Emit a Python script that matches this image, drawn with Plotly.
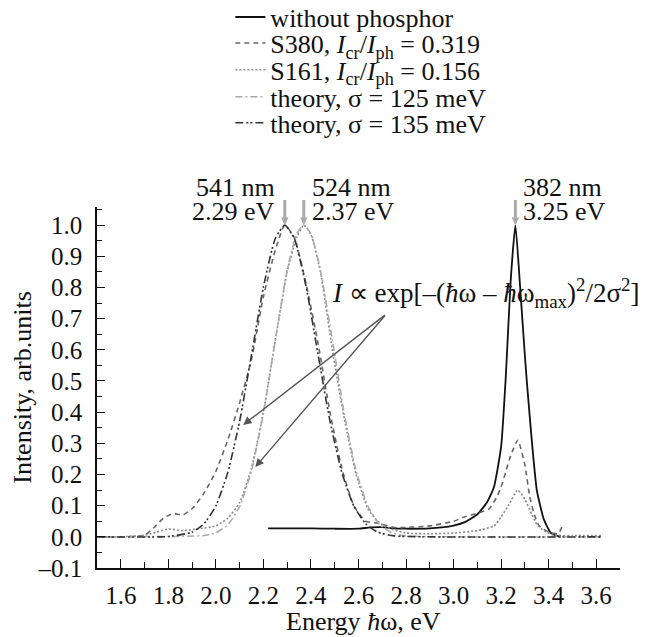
import plotly.graph_objects as go

# "without phosphor" (solid)
e_nophos = [2.22, 2.30, 2.40, 2.50, 2.60, 2.65, 2.70, 2.75, 2.80, 2.90, 2.95, 3.00, 3.05,
            3.10, 3.14, 3.17, 3.20, 3.22, 3.24, 3.26, 3.28, 3.30, 3.31, 3.33, 3.35, 3.38,
            3.41, 3.45]
i_nophos = [0.027, 0.027, 0.027, 0.026, 0.026, 0.030, 0.031, 0.027, 0.026, 0.027, 0.030,
            0.036, 0.048, 0.072, 0.11, 0.16, 0.29, 0.52, 0.82, 1.0, 0.80, 0.58, 0.48, 0.30,
            0.15, 0.055, 0.012, 0.0]

# S380 (dashed)
e_s380 = [1.52, 1.60, 1.70, 1.74, 1.78, 1.82, 1.86, 1.90, 1.95, 2.00, 2.05, 2.10, 2.15,
          2.20, 2.25, 2.29, 2.33, 2.38, 2.43, 2.48, 2.53, 2.58, 2.63, 2.67, 2.70, 2.75,
          2.80, 2.90, 3.00, 3.05, 3.10, 3.15, 3.18, 3.20, 3.22, 3.24, 3.27, 3.30, 3.32,
          3.34, 3.36, 3.40, 3.44, 3.46]
i_s380 = [0.0, 0.0, 0.005, 0.03, 0.06, 0.075, 0.07, 0.09, 0.14, 0.21, 0.31, 0.43, 0.57,
          0.77, 0.92, 1.0, 0.96, 0.81, 0.62, 0.40, 0.22, 0.10, 0.05, 0.045, 0.04, 0.03,
          0.03, 0.035, 0.05, 0.065, 0.075, 0.09, 0.125, 0.16, 0.21, 0.26, 0.31, 0.23,
          0.13, 0.07, 0.035, 0.015, 0.01, 0.04]

# S161 (dotted)
e_s161 = [1.52, 1.60, 1.70, 1.75, 1.80, 1.86, 1.92, 2.00, 2.05, 2.10, 2.15, 2.20, 2.25,
          2.30, 2.34, 2.37, 2.40, 2.44, 2.49, 2.54, 2.59, 2.64, 2.68, 2.72, 2.80, 2.90,
          3.00, 3.10, 3.17, 3.20, 3.23, 3.27, 3.30, 3.33, 3.35, 3.38, 3.42, 3.50, 3.62]
i_s161 = [0.0, 0.0, 0.005, 0.015, 0.025, 0.02, 0.025, 0.035, 0.06, 0.11, 0.22, 0.40, 0.63,
          0.85, 0.96, 1.0, 0.97, 0.85, 0.60, 0.38, 0.20, 0.09, 0.05, 0.03, 0.012, 0.01,
          0.012, 0.02, 0.035, 0.064, 0.10, 0.15, 0.12, 0.07, 0.04, 0.02, 0.006, 0.004, 0.004]

# theory, sigma = 125 meV (dash-dot)
e_th125 = [1.50, 1.95, 2.00, 2.05, 2.10, 2.15, 2.20, 2.25, 2.30, 2.34, 2.37, 2.40, 2.44,
           2.49, 2.54, 2.59, 2.64, 2.69, 2.74, 2.80, 3.62]
i_th125 = [0.0, 0.004, 0.013, 0.038, 0.097, 0.212, 0.396, 0.631, 0.855, 0.972, 1.0, 0.972,
           0.855, 0.631, 0.396, 0.212, 0.097, 0.038, 0.013, 0.003, 0.0]

# theory, sigma = 135 meV (dash-dot-dot)
e_th135 = [1.50, 1.80, 1.90, 1.95, 2.00, 2.05, 2.10, 2.15, 2.20, 2.25, 2.29, 2.33, 2.38,
           2.43, 2.48, 2.53, 2.58, 2.63, 2.68, 2.75, 3.62]
i_th135 = [0.0, 0.001, 0.015, 0.042, 0.099, 0.206, 0.371, 0.584, 0.801, 0.957, 1.0, 0.957,
           0.801, 0.584, 0.371, 0.206, 0.099, 0.042, 0.015, 0.003, 0.0]

# peak markers: energy, wavelength label, energy label, side of text
peaks = [(2.29, "541 nm", "2.29 eV", "right"),
         (2.37, "524 nm", "2.37 eV", "left"),
         (3.26, "382 nm", "3.25 eV", "left")]

x_ticks = [1.6, 1.8, 2.0, 2.2, 2.4, 2.6, 2.8, 3.0, 3.2, 3.4, 3.6]
y_ticks = [-0.1, 0.0, 0.1, 0.2, 0.3, 0.4, 0.5, 0.6, 0.7, 0.8, 0.9, 1.0]

FONT = "Liberation Serif, Times New Roman, serif"

series = [
    (e_nophos, i_nophos, "without phosphor", "#111111", "solid", 1.8),
    (e_s380, i_s380, "S380, <i>I</i><sub>cr</sub>/<i>I</i><sub>ph</sub> = 0.319",
     "#666666", "5px,4px", 1.6),
    (e_s161, i_s161, "S161, <i>I</i><sub>cr</sub>/<i>I</i><sub>ph</sub> = 0.156",
     "#888888", "2px,2px", 1.6),
    (e_th125, i_th125, "theory, σ = 125 meV", "#aaaaaa", "7px,3px,2px,3px", 1.6),
    (e_th135, i_th135, "theory, σ = 135 meV", "#333333", "8px,3px,2px,2px,2px,3px", 1.6),
]

legend_rows = [1.526, 1.454, 1.380, 1.305, 1.233]

fig = go.Figure()
layout_legends = {}
for k, (ex, iy, name, color, dash, w) in enumerate(series):
    key = "legend" if k == 0 else "legend%d" % (k + 1)
    fig.add_trace(go.Scatter(
        x=ex, y=iy, name=name, mode="lines",
        line=dict(color=color, dash=dash, width=w, shape="spline", smoothing=0.5),
        legend=key,
    ))
    layout_legends[key] = dict(
        x=0.255, y=legend_rows[k], xanchor="left", yanchor="middle",
        font=dict(family=FONT, size=26, color="#111111"),
        bgcolor="rgba(0,0,0,0)", borderwidth=0,
    )

annotations = []
for e, nm, ev, side in peaks:
    shift = -8 if side == "right" else 6
    annotations.append(dict(x=e, y=1.0, ax=e, ay=1.085, xref="x", yref="y",
                            axref="x", ayref="y", text="", showarrow=True,
                            arrowhead=2, arrowsize=0.5, arrowwidth=3,
                            arrowcolor="#aaaaaa"))
    annotations.append(dict(x=e, y=1.042, xref="x", yref="y", text=nm,
                            showarrow=False, xanchor=side, xshift=shift, yshift=24,
                            font=dict(family=FONT, size=26, color="#111111")))
    annotations.append(dict(x=e, y=1.042, xref="x", yref="y", text=ev,
                            showarrow=False, xanchor=side, xshift=shift,
                            font=dict(family=FONT, size=26, color="#111111")))

annotations.append(dict(
    x=2.48, y=0.782, xref="x", yref="y", xanchor="left", showarrow=False,
    text="<i>I</i> ∝ exp[–(<i>ħ</i>ω – <i>ħ</i>ω<sub>max</sub>)<sup>2</sup>/2σ<sup>2</sup>]",
    font=dict(family=FONT, size=27, color="#111111"),
))
for tip in [(2.115, 0.359), (2.166, 0.224)]:
    annotations.append(dict(x=tip[0], y=tip[1], ax=2.717, ay=0.715, xref="x", yref="y",
                            axref="x", ayref="y", text="", showarrow=True,
                            arrowhead=2, arrowsize=1.2, arrowwidth=1.4,
                            arrowcolor="#555555"))

# x-axis title placed below the tick labels
annotations.append(dict(
    x=0.51, y=-0.148, xref="paper", yref="paper", xanchor="center", yanchor="middle",
    showarrow=False, text="Energy <i>ħ</i>ω, eV",
    font=dict(family=FONT, size=26, color="#111111"),
))

# the page body adds an 8 px margin, so the figure is 8 px smaller each way
fig.update_layout(
    width=645, height=629,
    margin=dict(l=89, r=33, t=199, b=69, autoexpand=False),
    paper_bgcolor="white", plot_bgcolor="white",
    font=dict(family=FONT, size=25, color="#111111"),
    showlegend=True,
    annotations=annotations,
    xaxis=dict(
        range=[1.5, 3.7], tickvals=x_ticks, ticktext=["%.1f" % v for v in x_ticks],
        ticks="inside", ticklen=9, tickwidth=1.3, tickcolor="#111111",
        minor=dict(dtick=0.1, tick0=1.5, ticks="inside", ticklen=6, tickwidth=1.3,
                   tickcolor="#111111"),
        showline=True, linecolor="#111111", linewidth=1.6, showgrid=False,
        zeroline=False, ticklabelstandoff=4,
        tickfont=dict(family=FONT, size=25),
    ),
    yaxis=dict(
        range=[-0.1, 1.058], tickvals=y_ticks,
        ticktext=["–0.1" if v < 0 else "%.1f" % v for v in y_ticks],
        ticks="inside", ticklen=8, tickwidth=1.3, tickcolor="#111111",
        minor=dict(dtick=0.05, tick0=0.0, ticks="inside", ticklen=5, tickwidth=1.3,
                   tickcolor="#111111"),
        showline=True, linecolor="#111111", linewidth=1.6, showgrid=False,
        zeroline=False, ticklabelstandoff=8,
        title=dict(text="Intensity, arb.units", standoff=6,
                   font=dict(family=FONT, size=26)),
        tickfont=dict(family=FONT, size=25),
    ),
    **layout_legends,
)

fig.write_html("out.html")
